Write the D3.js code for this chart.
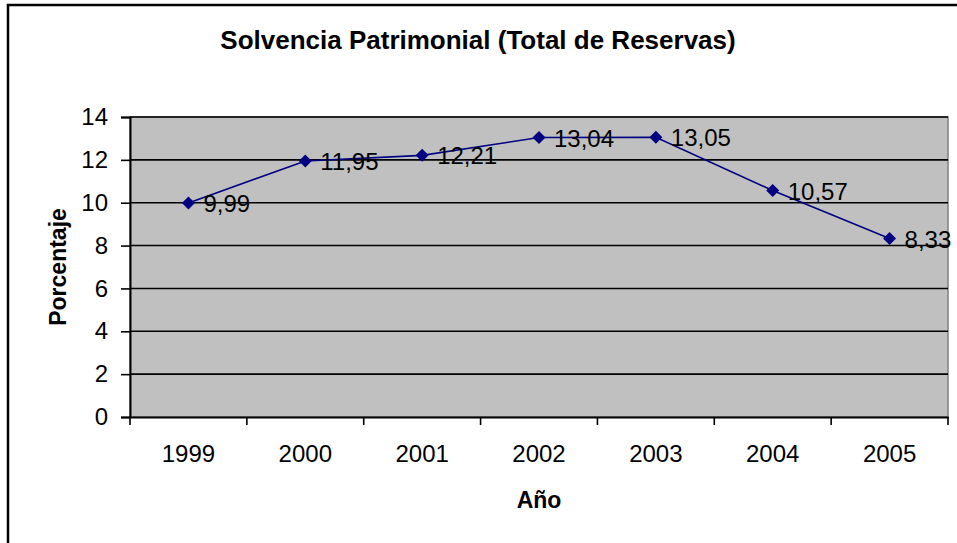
<!DOCTYPE html>
<html><head><meta charset="utf-8">
<script src="https://cdn.jsdelivr.net/npm/d3@7"></script>
<style>html,body{margin:0;padding:0;background:#fff;overflow:hidden}</style>
</head><body>
<script>
const years = ["1999","2000","2001","2002","2003","2004","2005"];
const values = [9.99, 11.95, 12.21, 13.04, 13.05, 10.57, 8.33];
const valueLabels = ["9,99","11,95","12,21","13,04","13,05","10,57","8,33"];
const yTicks = [0,2,4,6,8,10,12,14];
const title = "Solvencia Patrimonial (Total de Reservas)";
const xTitle = "Año";
const yTitle = "Porcentaje";

(function(){
const W = 957, H = 543;
const FF = "'Liberation Sans', Arial, sans-serif";
const svg = d3.select("body").append("svg").attr("width", W).attr("height", H)
  .style("font-family", FF);
svg.append("rect").attr("width", W).attr("height", H).attr("fill", "#fff");

svg.append("path").attr("d", `M8,${H+5} V5 H${W+5}`).attr("fill","none").attr("stroke","#000").attr("stroke-width",2.5);

const pL = 130, pR = 948, pT = 117, pB = 417;
const x = d3.scaleBand().domain(years).range([pL, pR]).padding(0);
const y = d3.scaleLinear().domain([0,14]).range([pB, pT]);

svg.append("rect").attr("x", pL).attr("y", pT).attr("width", pR-pL).attr("height", pB-pT)
  .attr("fill", "#c0c0c0").attr("stroke", "#808080").attr("stroke-width", 1.5);

svg.append("g").selectAll("line").data(yTicks.filter(d=>d>0)).join("line")
  .attr("x1", pL).attr("x2", pR).attr("y1", d=>y(d)).attr("y2", d=>y(d))
  .attr("stroke", "#000").attr("stroke-width", 1.6);

const ya = svg.append("g").attr("transform", `translate(${pL},0)`)
  .call(d3.axisLeft(y).tickValues(yTicks).tickSize(9).tickPadding(13));
ya.select(".domain").attr("stroke","#000").attr("stroke-width",2);
ya.selectAll(".tick line").attr("stroke","#000").attr("stroke-width",1.6);
ya.selectAll(".tick text").attr("font-size", 24).attr("fill","#000").attr("font-family",FF);

const xa = svg.append("g").attr("transform", `translate(0,${pB})`)
  .call(d3.axisBottom(x).tickSize(0).tickPadding(0));
xa.select(".domain").attr("stroke","#000").attr("stroke-width",2);
xa.selectAll(".tick text").attr("font-size", 24).attr("fill","#000").attr("font-family",FF)
  .attr("dy", null).attr("y", 45);
svg.append("g").selectAll("line").data(years.concat(["end"])).join("line")
  .attr("x1", (d,i)=> i < years.length ? x(d) : pR)
  .attr("x2", (d,i)=> i < years.length ? x(d) : pR)
  .attr("y1", pB).attr("y2", pB+8).attr("stroke","#000").attr("stroke-width",1.6);

const cx = d => x(d) + x.bandwidth()/2;

svg.append("path").datum(values)
  .attr("d", d3.line().x((d,i)=>cx(years[i])).y(d=>y(d)))
  .attr("fill","none").attr("stroke","#000080").attr("stroke-width",1.6);

svg.append("g").selectAll("path").data(values).join("path")
  .attr("transform", (d,i)=>`translate(${cx(years[i])},${y(d)})`)
  .attr("d", "M0,-6.5L6.5,0L0,6.5L-6.5,0Z").attr("fill","#000080");

svg.append("g").selectAll("text").data(values).join("text")
  .attr("x", (d,i)=>cx(years[i]) + 15).attr("y", d=>y(d) + 9)
  .attr("font-size", 24).attr("fill","#000").text((d,i)=>valueLabels[i]);

svg.append("text").attr("x", 478).attr("y", 49).attr("text-anchor","middle")
  .attr("font-size", 26).attr("font-weight","bold").text(title);
svg.append("text").attr("x", 539).attr("y", 508).attr("text-anchor","middle")
  .attr("font-size", 23).attr("font-weight","bold").text(xTitle);
svg.append("text").attr("transform", "translate(66,267) rotate(-90)").attr("text-anchor","middle")
  .attr("font-size", 23).attr("font-weight","bold").text(yTitle);
})();
</script>
</body></html>
